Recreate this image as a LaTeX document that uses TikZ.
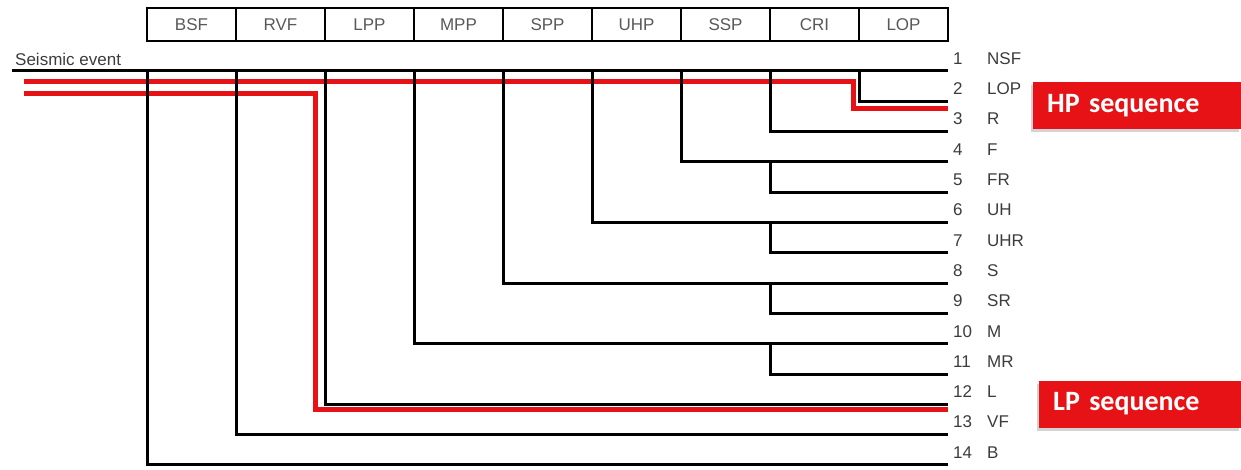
\documentclass[tikz,border=0pt]{standalone}
\usepackage{fontspec}
\setmainfont{Liberation Sans}
\newfontfamily\seqfont{Carlito}
\usepackage{xcolor}
\usetikzlibrary{positioning,shadows}

\definecolor{seqred}{RGB}{230,18,22}
\definecolor{txtgray}{RGB}{60,60,60}

\begin{document}
\begin{tikzpicture}[x=1pt, y=-1pt,
  head/.style={draw, line width=2.2pt, outer sep=0pt, inner sep=0pt, minimum width=89pt, minimum height=33pt, font=\fontsize{17}{17}\selectfont, text=txtgray!85},
  rowlbl/.style={anchor=west, inner sep=0pt, font=\fontsize{17}{17}\selectfont, text=txtgray},
  tree/.style={line width=3pt},
  seq/.style={line width=5pt, draw=seqred},
  tag/.style={fill=seqred, text=white, anchor=west, inner xsep=14pt, minimum height=47pt, font=\seqfont\bfseries\fontsize{28}{28}\selectfont, drop shadow={shadow xshift=-2pt, shadow yshift=-3pt, opacity=0.35}}
]
\useasboundingbox (0,0) rectangle (1241,470);

\node[head, anchor=north west] (hBSF) at (147,8) {BSF};
\foreach \c [remember=\c as \p (initially BSF)] in {RVF,LPP,MPP,SPP,UHP,SSP,CRI,LOP}
  \node[head, right=0pt of h\p] (h\c) {\c};

\foreach \t [count=\k] in {NSF,LOP,R,F,FR,UH,UHR,S,SR,M,MR,L,VF,B} {
  \node[rowlbl] (r\k) at (953, 58.5+30.3*\k-30.3) {\makebox[34pt][l]{\k}\t};
  \coordinate (l\k) at (948, 71+30.3*\k-30.3);
}

\coordinate (ev) at (12,71);
\node[rowlbl, anchor=base west] (evt) at (15,66) {Seismic event};

\coordinate (hp0) at (24,82);
\coordinate (hpend) at (948,109);
\coordinate (lp0) at (24,94);
\coordinate (lpend) at (948,409);
\draw[seq] (hp0) -- ++(829,0) |- (hpend);
\draw[seq] (lp0) -- ++(291,0) |- (lpend);

\draw[tree] (ev) -- (l1);
\foreach \c/\a/\b in {LOP/1/2, CRI/1/3, SSP/1/4, CRI/4/5, UHP/1/6, CRI/6/7, SPP/1/8, CRI/8/9, MPP/1/10, CRI/10/11, LPP/1/12, RVF/1/13, BSF/1/14}
  \draw[tree] (h\c.south west |- l\a) |- (l\b);

\node[tag, text width=180pt] (hp) at (1033,106) {HP sequence};
\node[tag, text width=174pt] (lp) at (1039,404) {LP sequence};

\end{tikzpicture}
\end{document}
